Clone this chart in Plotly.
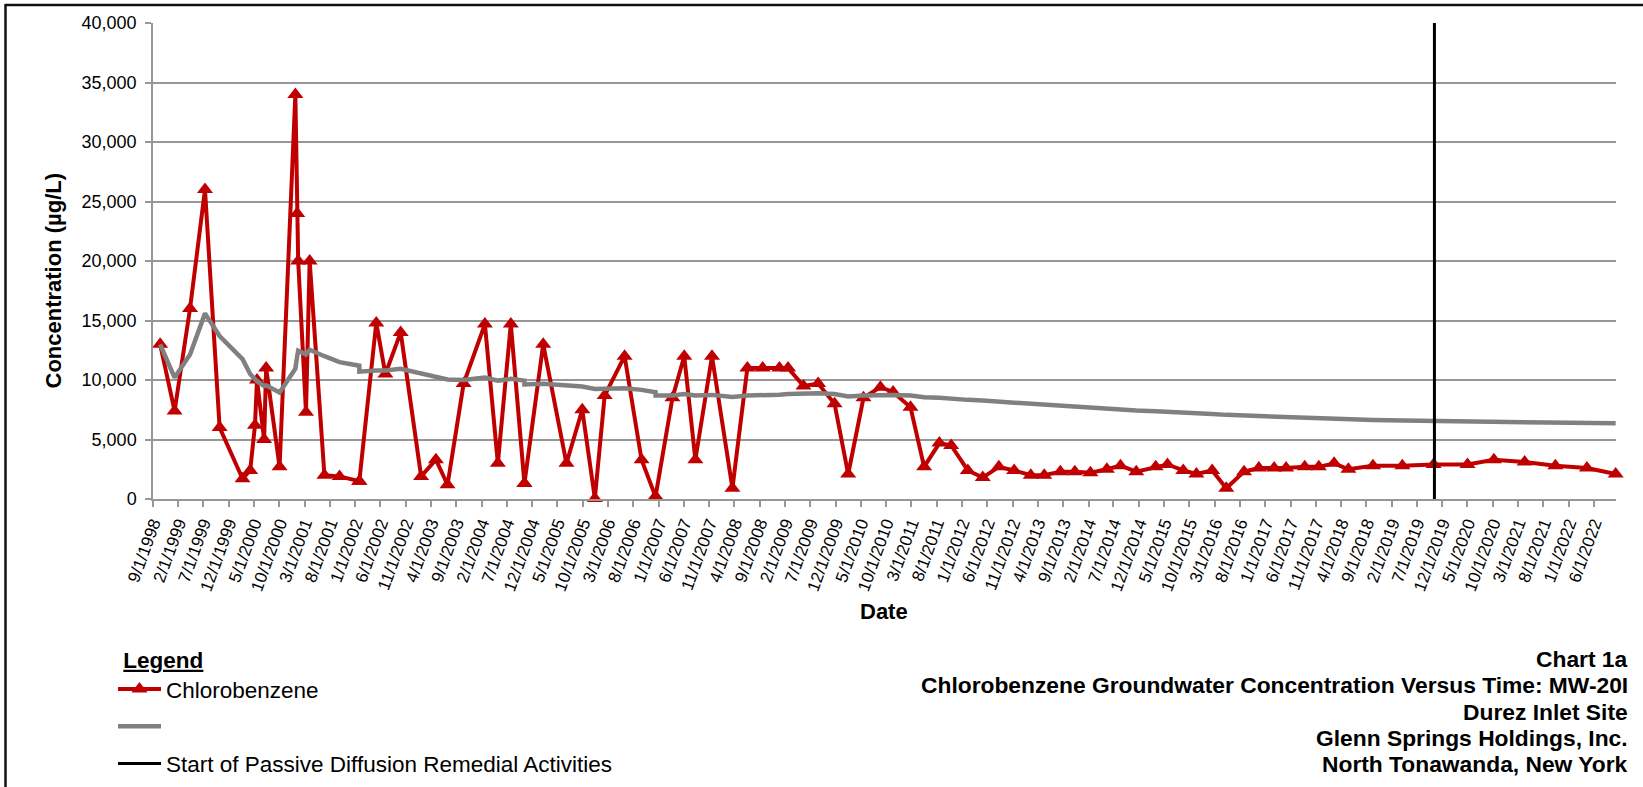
import plotly.graph_objects as go

# ---------------- data ----------------
sample_dates = [
    "1998-10-14", "1999-01-09", "1999-04-12", "1999-07-11", "1999-10-07",
    "2000-02-22", "2000-04-08", "2000-05-07", "2000-05-19", "2000-07-01",
    "2000-07-13", "2000-10-02", "2001-01-05", "2001-01-16", "2001-01-22",
    "2001-03-10", "2001-04-01", "2001-06-29", "2001-09-28", "2002-01-25",
    "2002-01-25", "2002-05-07", "2002-07-01", "2002-10-01", "2003-02-01",
    "2003-05-01", "2003-07-10", "2003-10-15", "2004-02-20", "2004-05-08",
    "2004-07-25", "2004-10-15", "2004-10-15", "2005-02-05", "2005-06-25",
    "2005-09-28", "2005-12-13", "2006-02-10", "2006-06-10", "2006-09-20",
    "2006-12-13", "2006-12-13", "2007-03-25", "2007-06-04", "2007-08-10",
    "2007-11-18", "2008-03-20", "2008-06-18", "2008-09-18", "2008-12-28",
    "2009-02-18", "2009-05-22", "2009-08-18", "2009-11-25", "2010-02-15",
    "2010-05-18", "2010-08-28", "2010-11-12", "2011-02-25", "2011-05-18",
    "2011-08-18", "2011-10-28", "2012-02-05", "2012-05-05", "2012-08-10",
    "2012-11-10", "2013-02-18", "2013-05-10", "2013-08-15", "2013-11-10",
    "2014-02-12", "2014-05-22", "2014-08-12", "2014-11-15", "2015-03-12",
    "2015-05-22", "2015-08-25", "2015-11-12", "2016-02-15", "2016-05-10",
    "2016-08-25", "2016-11-22", "2017-02-22", "2017-05-05", "2017-08-25",
    "2017-11-18", "2018-02-18", "2018-05-15", "2018-10-10", "2019-04-05",
    "2019-10-10", "2020-05-01", "2020-10-07", "2021-04-10", "2021-10-12",
    "2022-04-20", "2022-10-10",
]

chlorobenzene = [
    13000, 7400, 16000, 26000, 6000,
    1700, 2400, 6200, 10000, 5000,
    11000, 2700, 34000, 24000, 20000,
    7300, 20000, 2000, 1900, 1500,
    1500, 14800, 10500, 14000, 1900,
    3300, 1200, 9700, 14700, 3000,
    14700, 1300, 1300, 13000, 3000,
    7500, 50, 8700, 12000, 3300,
    200, 200, 8500, 12000, 3300,
    12000, 900, 11000, 11000, 11000,
    11000, 9500, 9700, 8000, 2100,
    8500, 9400, 9000, 7700, 2700,
    4700, 4500, 2400, 1800, 2700,
    2400, 2000, 2000, 2300, 2300,
    2200, 2500, 2800, 2300, 2700,
    2900, 2400, 2100, 2400, 900,
    2300, 2600, 2600, 2600, 2700,
    2700, 3000, 2500, 2800, 2800,
    2900, 2900, 3300, 3100, 2800,
    2600, 2100,
]

grey_trend = [
    13000, 10200, 12150, 15600, 13700,
    11750, 10500, 10000, 9900, 9500,
    9550, 8950, 10950, 12000, 12450,
    12150, 12550, 12000, 11500, 11200,
    10700, 10800, 10800, 10950, 10550,
    10250, 10050, 10000, 10200, 9950,
    10100, 9950, 9620, 9680, 9530,
    9450, 9250, 9250, 9300, 9170,
    8970, 8690, 8690, 8830, 8690,
    8750, 8580, 8690, 8700, 8770,
    8830, 8880, 8880, 8830, 8620,
    8690, 8750, 8750, 8690, 8550,
    8500, 8410, 8330, 8270, 8180,
    8100, 7990, 7910, 7790, 7700,
    7650, 7570, 7510, 7430, 7370,
    7340, 7260, 7200, 7150, 7070,
    7010, 6950, 6920, 6860, 6810,
    6780, 6730, 6670, 6640, 6590,
    6560, 6530, 6500, 6480, 6420,
    6360, 6360,
]

remedial_start_dates = ["2019-10-15", "2019-10-15"]
remedial_span = [0, 40000]

tick_dates = [
    "1998-09-01", "1999-02-01", "1999-07-01", "1999-12-01", "2000-05-01",
    "2000-10-01", "2001-03-01", "2001-08-01", "2002-01-01", "2002-06-01",
    "2002-11-01", "2003-04-01", "2003-09-01", "2004-02-01", "2004-07-01",
    "2004-12-01", "2005-05-01", "2005-10-01", "2006-03-01", "2006-08-01",
    "2007-01-01", "2007-06-01", "2007-11-01", "2008-04-01", "2008-09-01",
    "2009-02-01", "2009-07-01", "2009-12-01", "2010-05-01", "2010-10-01",
    "2011-03-01", "2011-08-01", "2012-01-01", "2012-06-01", "2012-11-01",
    "2013-04-01", "2013-09-01", "2014-02-01", "2014-07-01", "2014-12-01",
    "2015-05-01", "2015-10-01", "2016-03-01", "2016-08-01", "2017-01-01",
    "2017-06-01", "2017-11-01", "2018-04-01", "2018-09-01", "2019-02-01",
    "2019-07-01", "2019-12-01", "2020-05-01", "2020-10-01", "2021-03-01",
    "2021-08-01", "2022-01-01", "2022-06-01",
]
tick_labels = [
    "9/1/1998", "2/1/1999", "7/1/1999", "12/1/1999", "5/1/2000",
    "10/1/2000", "3/1/2001", "8/1/2001", "1/1/2002", "6/1/2002",
    "11/1/2002", "4/1/2003", "9/1/2003", "2/1/2004", "7/1/2004",
    "12/1/2004", "5/1/2005", "10/1/2005", "3/1/2006", "8/1/2006",
    "1/1/2007", "6/1/2007", "11/1/2007", "4/1/2008", "9/1/2008",
    "2/1/2009", "7/1/2009", "12/1/2009", "5/1/2010", "10/1/2010",
    "3/1/2011", "8/1/2011", "1/1/2012", "6/1/2012", "11/1/2012",
    "4/1/2013", "9/1/2013", "2/1/2014", "7/1/2014", "12/1/2014",
    "5/1/2015", "10/1/2015", "3/1/2016", "8/1/2016", "1/1/2017",
    "6/1/2017", "11/1/2017", "4/1/2018", "9/1/2018", "2/1/2019",
    "7/1/2019", "12/1/2019", "5/1/2020", "10/1/2020", "3/1/2021",
    "8/1/2021", "1/1/2022", "6/1/2022",
]

title_lines = [
    "Chart 1a",
    "Chlorobenzene Groundwater Concentration Versus Time: MW-20I",
    "Durez Inlet Site",
    "Glenn Springs Holdings, Inc.",
    "North Tonawanda, New York",
]

# ---------------- styling ----------------
FONT = "Liberation Sans, Arial, sans-serif"
RED = "#C00000"
GREY = "#808080"
GRID = "#979797"

W, H = 1643, 787
ML, MR, MT, MB = 153, 27, 23, 288
PW, PH = W - ML - MR, H - MT - MB


def px_x(px):
    return (px - ML) / PW


def px_y(py):
    return (H - MB - py) / PH


fig = go.Figure()

fig.add_trace(go.Scatter(
    x=sample_dates, y=chlorobenzene, name="Chlorobenzene",
    mode="lines+markers", cliponaxis=False,
    line=dict(color=RED, width=4),
    marker=dict(symbol="triangle-up", size=14, color=RED, line=dict(width=0)),
    legendgroup="a",
))
fig.add_trace(go.Scatter(
    x=sample_dates, y=grey_trend, name=" ",
    mode="lines", line=dict(color=GREY, width=4.5),
    legendgroup="b",
))
fig.add_trace(go.Scatter(
    x=remedial_start_dates, y=remedial_span,
    name="Start of Passive Diffusion Remedial Activities",
    mode="lines", line=dict(color="black", width=3),
    legendgroup="c",
))

fig.update_layout(
    width=W, height=H,
    margin=dict(l=ML, r=MR, t=MT, b=MB, autoexpand=False),
    paper_bgcolor="white", plot_bgcolor="white",
    font=dict(family=FONT, size=18, color="black"),
    showlegend=True,
    legend=dict(
        xref="container", yref="container",
        x=113 / W, y=1 - 638.5 / H, xanchor="left", yanchor="top",
        bgcolor="rgba(0,0,0,0)", borderwidth=0,
        font=dict(family=FONT, size=22.5, color="black"),
        title=dict(
            text='<span style="font-size:30px">&nbsp;</span><b><u>Legend</u></b>',
            font=dict(family=FONT, size=22.5, color="black"),
        ),
        traceorder="grouped", tracegroupgap=5,
        itemwidth=43,
    ),
    xaxis=dict(
        type="date",
        range=["1998-09-01", "2022-10-12"],
        tickmode="array", tickvals=tick_dates, ticktext=tick_labels,
        tickangle=-70,
        tickfont=dict(family=FONT, size=17, color="black"),
        ticks="outside", ticklen=6, tickwidth=1.5, tickcolor=GRID,
        showgrid=False, showline=True, linecolor=GRID, linewidth=1.5,
        zeroline=False,
    ),
    yaxis=dict(
        range=[0, 40000], dtick=5000, tick0=0, tickformat=",d",
        tickfont=dict(family=FONT, size=18, color="black"),
        ticks="outside", ticklen=6, tickwidth=1.5, tickcolor=GRID,
        ticklabelstandoff=5,
        showgrid=True, gridcolor=GRID, gridwidth=1.5,
        showline=True, linecolor=GRID, linewidth=1.5,
        zeroline=False,
    ),
)

# axis titles
fig.add_annotation(
    text="<b>Concentration (µg/L)</b>", xref="paper", yref="paper",
    x=px_x(52.5), y=px_y(281), xanchor="center", yanchor="middle",
    textangle=-90, showarrow=False,
    font=dict(family=FONT, size=22, color="black"),
)
fig.add_annotation(
    text="<b>Date</b>", xref="paper", yref="paper",
    x=px_x(883.5), y=px_y(611), xanchor="center", yanchor="middle",
    showarrow=False,
    font=dict(family=FONT, size=22, color="black"),
)

# title block (right aligned, below the plot)
centres = [659, 684.5, 712, 738, 763.5]
for line, cy in zip(title_lines, centres):
    fig.add_annotation(
        text=f"<b>{line}</b>", xref="paper", yref="paper",
        x=px_x(1630), y=px_y(cy), xanchor="right", yanchor="middle",
        showarrow=False, align="right",
        font=dict(family=FONT, size=22.8, color="black"),
    )

# outer frame (top and left edges visible in the reference)
fig.add_shape(type="line", xref="paper", yref="paper",
              x0=px_x(5), x1=px_x(W + 5), y0=px_y(5), y1=px_y(5),
              line=dict(color="#111111", width=2.5))
fig.add_shape(type="line", xref="paper", yref="paper",
              x0=px_x(5.5), x1=px_x(5.5), y0=px_y(4), y1=px_y(H + 5),
              line=dict(color="#111111", width=2.5))

fig.write_html(
    "out.html",
    config={"displayModeBar": False},
    post_script="document.body.style.margin='0';document.body.style.overflow='hidden';",
)
